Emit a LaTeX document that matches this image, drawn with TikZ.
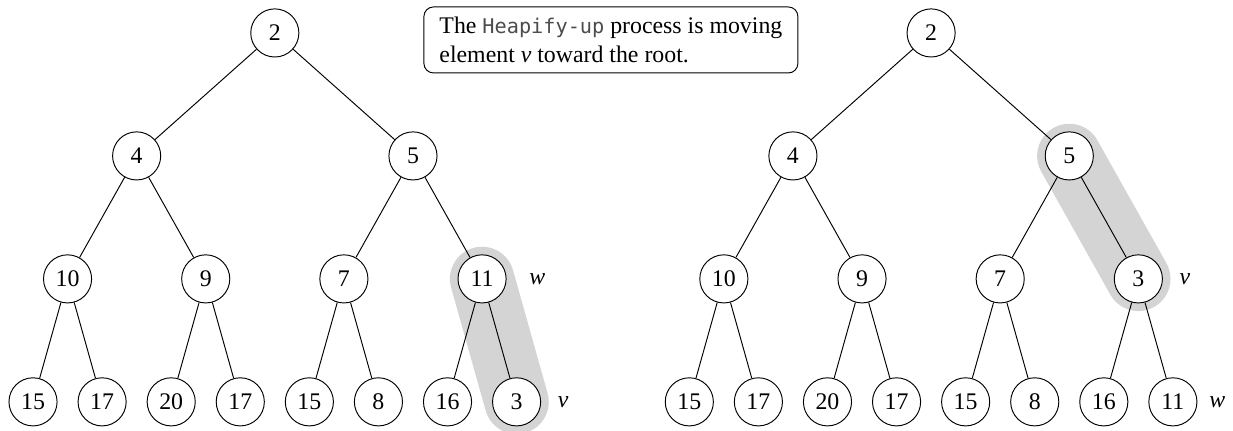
\documentclass[tikz,border=0pt]{standalone}
\usepackage{fontspec}
\setmainfont{Liberation Serif}
\newfontfamily\codefont{DejaVu Sans Mono}[Scale=0.85]
\usepackage{tikz}
\usetikzlibrary{positioning}
\usetikzlibrary{backgrounds}
\tikzset{vertex/.style={circle, draw, fill=white, minimum size=20.2pt, inner sep=0pt}}
\tikzset{band/.style={draw=black!17, line width=27pt, line cap=round}}
\tikzset{note/.style={draw, rounded corners=4pt, align=left, inner xsep=5pt, minimum width=157pt, minimum height=27.7pt}}

\begin{document}
\begin{tikzpicture}[x=29pt,y=51.62pt]
  \useasboundingbox (-0.478,-0.236) rectangle (17.37,3.268);
  % heap before the swap
  \foreach \x/\y/\lab/\val in {
    3.5/3/a1/2,
    1.5/2/a2/4,
    5.5/2/a3/5,
    0.5/1/a4/10,
    2.5/1/a5/9,
    4.5/1/a6/7,
    6.5/1/a7/11,
    0/0/a8/15,
    1/0/a9/17,
    2/0/a10/20,
    3/0/a11/17,
    4/0/a12/15,
    5/0/a13/8,
    6/0/a14/16,
    7/0/a15/3%
  } {
    \node[vertex] (\lab) at (\x, \y) {\val};
  }
  % heap after the swap
  \foreach \x/\y/\lab/\val in {
    3.5/3/b1/2,
    1.5/2/b2/4,
    5.5/2/b3/5,
    0.5/1/b4/10,
    2.5/1/b5/9,
    4.5/1/b6/7,
    6.5/1/b7/3,
    0/0/b8/15,
    1/0/b9/17,
    2/0/b10/20,
    3/0/b11/17,
    4/0/b12/15,
    5/0/b13/8,
    6/0/b14/16,
    7/0/b15/11%
  } {
    \node[vertex] (\lab) at (9.5+\x, \y) {\val};
  }
  \begin{scope}[on background layer]
    \draw[band] (a7.center) -- (a15.center);
    \draw[band] (b3.center) -- (b7.center);
    \foreach \u/\v in {
      1/2, 1/3,
      2/4, 2/5,
      3/6, 3/7,
      4/8, 4/9,
      5/10, 5/11,
      6/12, 6/13,
      7/14, 7/15%
    }{
      \draw (a\u) -- (a\v);
      \draw (b\u) -- (b\v);
    }
  \end{scope}
  \node[right=6pt of a7] (wa) {\textit{w}};
  \node[right=3.5pt of a15] (va) {\textit{v}};
  \node[right=3.5pt of b7] (vb) {\textit{v}};
  \node[right=1.5pt of b15] (wb) {\textit{w}};
  \node[note] (msg) at (8.365, 2.943)
    {The {\codefont\color{black!70}Heapify-up} process is moving\\element \textit{v} toward the root.};
\end{tikzpicture}
\end{document}
